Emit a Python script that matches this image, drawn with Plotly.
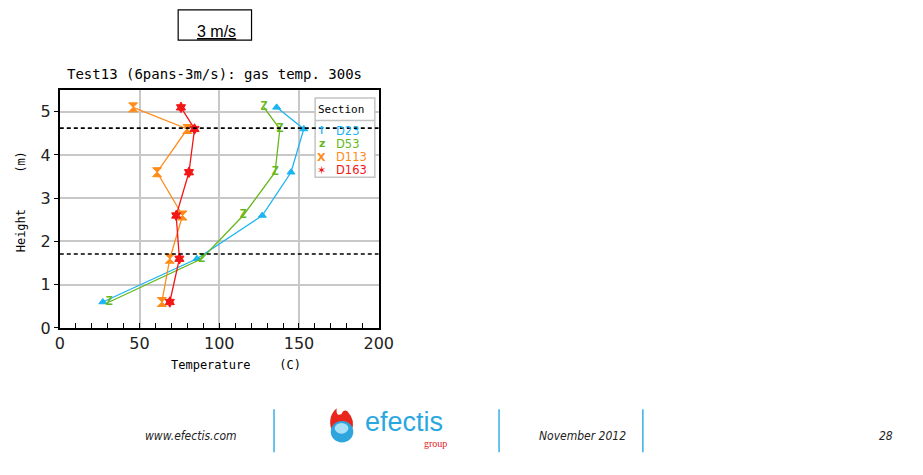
import plotly.graph_objects as go

heights = [5.1, 4.6, 3.6, 2.6, 1.6, 0.6]
d23 = [136, 153, 145, 127, 86, 27]
d53 = [128, 138, 135, 115, 89, 31]
d113 = [46, 80, 61, 77, 69, 64]
d163 = [76, 84.5, 81, 73, 75, 69]
series_names = ["D23", "D53", "D113", "D163"]
series_colors = ["#1cb4f2", "#66b81e", "#ff8c1a", "#f21616"]
legend_glyphs = ["<b>↑</b>", "<b>z</b>", "<b>Ⅹ</b>", "<b>✶</b>"]
dashed_levels = [4.62, 1.71]
x_ticks = [0, 50, 100, 150, 200]
y_ticks = [0, 1, 2, 3, 4, 5]

W, H = 923, 475
def px(x):
    return x / W
def py(y):
    return 1 - y / H

fig = go.Figure()
series = [d23, d53, d113, d163]
marker_defs = [
    dict(symbol="triangle-up", size=7),
    None,
    dict(symbol="hourglass", size=9),
    dict(symbol="hexagram", size=8),
]
for vals, name, col, mk in zip(series, series_names, series_colors, marker_defs):
    if mk is None:
        fig.add_trace(go.Scatter(
            x=vals, y=heights, mode="lines+text", name=name,
            text=["<b>Z</b>"] * len(vals), textposition="middle center",
            textfont=dict(family="DejaVu Sans Mono", size=12, color=col),
            line=dict(color=col, width=1.3), showlegend=False,
        ))
    else:
        fig.add_trace(go.Scatter(
            x=vals, y=heights, mode="lines+markers", name=name,
            line=dict(color=col, width=1.3),
            marker=dict(symbol=mk["symbol"], size=mk["size"], color=col,
                        line=dict(color=col, width=1)),
            showlegend=False,
        ))

axis_font = dict(family="DejaVu Sans", size=16, color="#222")
fig.update_xaxes(
    domain=[px(56), px(382)], range=[0, 200], tickvals=x_ticks,
    showgrid=True, gridcolor="#c8c8c8", gridwidth=1.5,
    showline=True, linecolor="black", linewidth=2, mirror=True,
    ticks="inside", ticklen=5, tickcolor="black", tickfont=axis_font,
    minor=dict(tickvals=[10, 20, 30, 40, 60, 70, 80, 90, 110, 120, 130, 140, 160, 170, 180, 190],
               ticks="inside", ticklen=5, tickcolor="black", showgrid=False),
    zeroline=False,
)
fig.update_yaxes(
    domain=[py(335), py(92)], range=[0, 5.5], tickvals=y_ticks,
    showgrid=True, gridcolor="#c8c8c8", gridwidth=1.5,
    showline=True, linecolor="black", linewidth=2, mirror=True,
    ticks="outside", ticklen=4, tickcolor="black", tickfont=axis_font,
    zeroline=False,
)

mono = "DejaVu Sans Mono"
annotations = [
    dict(x=px(214), y=py(76), text="Test13 (6pans-3m/s): gas temp. 300s",
         font=dict(family=mono, size=14, color="black")),
    dict(x=px(236), y=py(373), text="Temperature    (C)",
         font=dict(family=mono, size=12, color="black")),
    dict(x=px(16), y=py(206), text="Height     (m)", textangle=-90,
         font=dict(family=mono, size=12, color="black")),
    dict(x=px(216), y=py(32), text="<u>3 m/s</u>",
         font=dict(family="Liberation Sans", size=16, color="black")),
    dict(x=px(190), y=py(445), text="<i>www.efectis.com</i>",
         font=dict(family="DejaVu Sans Condensed", size=12, color="#222")),
    dict(x=px(590), y=py(445), text="<i>November 2012</i>",
         font=dict(family="DejaVu Sans Condensed", size=12, color="#222")),
    dict(x=px(901), y=py(445), text="<i>28</i>",
         font=dict(family="DejaVu Sans Condensed", size=12, color="#222")),
    dict(x=px(408), y=py(431), text="efectis",
         font=dict(family="Liberation Sans", size=27, color="#29a8e0")),
    dict(x=px(440), y=py(453), text="group",
         font=dict(family="Liberation Sans Narrow", size=10, color="#e02020")),
    dict(x=px(343), y=py(112), text="Section",
         font=dict(family=mono, size=11, color="black")),
]
entry_y = [133.5, 147, 160.5, 174]
for name, col, g, ey in zip(series_names, series_colors, legend_glyphs, entry_y):
    annotations.append(dict(x=px(324), y=py(ey), text=g,
                            font=dict(family="DejaVu Sans", size=11, color=col)))
    annotations.append(dict(x=px(336), y=py(ey), text=name, xanchor="left",
                            font=dict(family="DejaVu Sans", size=11.5, color=col)))
for a in annotations:
    a.setdefault("xanchor", "center")
    a.update(xref="paper", yref="paper", showarrow=False, yanchor="middle")
fig.update_layout(annotations=annotations)

shapes_paper = [
    dict(type="rect", x0=px(177), x1=px(252), y0=py(10), y1=py(41),
         line=dict(color="black", width=1.2)),
    dict(type="line", x0=px(275), x1=px(275), y0=py(418), y1=py(462), line=dict(color="#3aaee6", width=1.5)),
    dict(type="line", x0=px(505), x1=px(505), y0=py(418), y1=py(462), line=dict(color="#3aaee6", width=1.5)),
    dict(type="line", x0=px(652), x1=px(652), y0=py(418), y1=py(462), line=dict(color="#3aaee6", width=1.5)),
    # logo flame + droplet
    dict(type="path", path=f"M {px(334)} {py(440)} Q {px(329)} {py(426)} {px(339)} {py(417)} Q {px(338)} {py(426)} {px(344)} {py(423)} Q {px(346)} {py(418)} {px(350)} {py(420)} Q {px(359)} {py(430)} {px(354)} {py(440)} Z",
         fillcolor="#e8261e", line=dict(width=0)),
    dict(type="circle", x0=px(333), x1=px(356), y0=py(452), y1=py(430),
         fillcolor="#2fa5de", line=dict(width=0)),
    dict(type="circle", x0=px(337), x1=px(351), y0=py(443), y1=py(432),
         fillcolor="#a8e0f8", line=dict(width=0)),
    # custom legend box
    dict(type="rect", x0=px(317), x1=px(378), y0=py(100), y1=py(181),
         fillcolor="white", line=dict(color="#c4c4c4", width=1.5), layer="above"),
    dict(type="line", x0=px(317), x1=px(378), y0=py(123), y1=py(123),
         line=dict(color="#c4c4c4", width=1.5), layer="above"),
]
for s in shapes_paper:
    s.update(xref="paper", yref="paper")
    fig.add_shape(**s)

for lv in dashed_levels:
    fig.add_shape(type="line", xref="x", yref="y", x0=0, x1=200, y0=lv, y1=lv,
                  line=dict(color="black", width=1.6, dash="4px,3px"), layer="above")

fig.update_layout(
    width=W, height=H, margin=dict(l=0, r=0, t=0, b=0),
    paper_bgcolor="white", plot_bgcolor="white",
    showlegend=False,
)

fig.write_html("out.html")
